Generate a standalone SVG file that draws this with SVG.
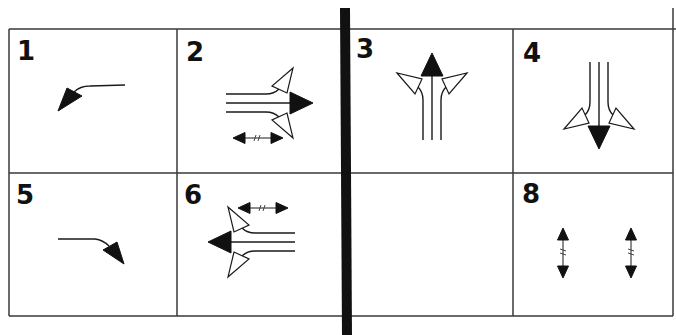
<svg xmlns="http://www.w3.org/2000/svg" xmlns:xlink="http://www.w3.org/1999/xlink" width="676" height="335" viewBox="0 0 676 335">
<style>
.grid{stroke:#3a3a3a;stroke-width:1.5;fill:none}
.ln{stroke:#1a1a1a;stroke-width:1.4;fill:none}
.hd{fill:#111;stroke:#111;stroke-width:1;stroke-linejoin:round}
.op{fill:#fff;stroke:#1a1a1a;stroke-width:1.2;stroke-linejoin:miter}
.hs{stroke:#333;stroke-width:0.9;fill:none}
.num{font-family:"DejaVu Sans",Verdana,sans-serif;font-weight:bold;font-size:26px;fill:#111}
</style>
<defs>
<g id="fork">
<path class="ln" d="M0,0 H64"/>
<polygon class="hd" points="64,-11 87,0 64,11"/>
<path class="ln" d="M0,-9 H40 Q48,-9 53,-14"/>
<polygon class="op" points="67,-35 46,-17 61,-10"/>
<path class="ln" d="M0,9 H40 Q48,9 53,14"/>
<polygon class="op" points="67,35 46,17 61,10"/>
</g>
<g id="dbl">
<path class="ln" d="M-20,0 H20" style="stroke-width:1"/>
<polygon class="hd" points="-25,0 -13,-5.5 -13,5.5"/>
<polygon class="hd" points="25,0 13,-5.5 13,5.5"/>
<path class="hs" d="M-4,3 L-2,-3 M0,3 L2,-3"/>
</g>
</defs>
<rect width="676" height="335" fill="#fff"/>
<g id="grid">
<path class="grid" d="M9,29 H676 M9,173 H673 M9,316 H673 M9,29 V316 M177,29 V316 M513,29 V316 M673,8 V316"/>
<polygon points="340,8 350,8 352,335 342,335" fill="#111"/>
</g>
<g id="cell1">
<text class="num" x="17" y="60">1</text>
<path class="ln" d="M125,85 L90,86 Q80,86 74,92"/>
<polygon class="hd" points="58,111 67,88 82,96"/>
</g>
<g id="cell2">
<text class="num" x="186" y="61">2</text>
<use xlink:href="#fork" transform="translate(226,103)"/>
<use xlink:href="#dbl" transform="translate(258,138)"/>
</g>
<g id="cell3">
<text class="num" x="356" y="58">3</text>
<use xlink:href="#fork" transform="translate(432,140) rotate(-90)"/>
</g>
<g id="cell4">
<text class="num" x="523" y="62">4</text>
<use xlink:href="#fork" transform="translate(599,62) rotate(90)"/>
</g>
<g id="cell5">
<text class="num" x="16" y="204">5</text>
<path class="ln" d="M58,239 L95,239 Q103,240 109,246"/>
<polygon class="hd" points="124,264 103,250 117,242"/>
</g>
<g id="cell6">
<text class="num" x="184" y="204">6</text>
<use xlink:href="#fork" transform="translate(295,242) scale(-1,1)"/>
<use xlink:href="#dbl" transform="translate(263,208)"/>
</g>
<g id="cell7"/>
<g id="cell8">
<text class="num" x="522" y="203">8</text>
<use xlink:href="#dbl" transform="translate(563,253) rotate(90)"/>
<use xlink:href="#dbl" transform="translate(631,253) rotate(90)"/>
</g>
</svg>
